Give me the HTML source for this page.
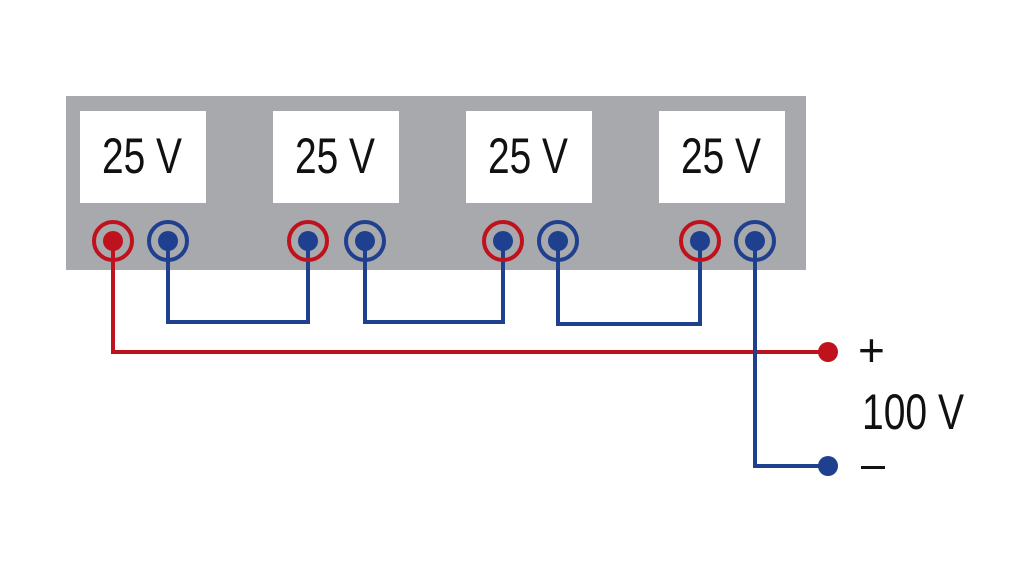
<!DOCTYPE html>
<html><head><style>
html,body{margin:0;padding:0;background:#fff;width:1024px;height:576px;overflow:hidden}
svg text{font-family:"Liberation Sans Narrow","Liberation Sans",sans-serif;fill:#111}
</style></head><body>
<svg width="1024" height="576" viewBox="0 0 1024 576" xmlns="http://www.w3.org/2000/svg">
<rect x="66" y="96" width="740" height="174" fill="#a7a9ad"/>
<g fill="#fff">
<rect x="80" y="111" width="126" height="92"/>
<rect x="273" y="111" width="126" height="92"/>
<rect x="466" y="111" width="126" height="92"/>
<rect x="659" y="111" width="126" height="92"/>
</g>
<g font-size="50" text-anchor="middle">
<text x="142" y="173" textLength="80" lengthAdjust="spacingAndGlyphs">25 V</text>
<text x="335" y="173" textLength="80" lengthAdjust="spacingAndGlyphs">25 V</text>
<text x="528" y="173" textLength="80" lengthAdjust="spacingAndGlyphs">25 V</text>
<text x="721" y="173" textLength="80" lengthAdjust="spacingAndGlyphs">25 V</text>
</g>
<g fill="none" stroke-width="4">
<polyline points="113,241 113,352 828,352" stroke="#c0121c"/>
<polyline points="168,241 168,322 308,322 308,241" stroke="#1f3f8f"/>
<polyline points="365,241 365,322 503,322 503,241" stroke="#1f3f8f"/>
<polyline points="558,241 558,324 700,324 700,241" stroke="#1f3f8f"/>
<polyline points="755,241 755,466 828,466" stroke="#1f3f8f"/>
</g>
<g stroke-width="4" fill="none">
<circle cx="113" cy="241" r="19" stroke="#c0121c"/>
<circle cx="168" cy="241" r="19" stroke="#1f3f8f"/>
<circle cx="308" cy="241" r="19" stroke="#c0121c"/>
<circle cx="365" cy="241" r="19" stroke="#1f3f8f"/>
<circle cx="503" cy="241" r="19" stroke="#c0121c"/>
<circle cx="558" cy="241" r="19" stroke="#1f3f8f"/>
<circle cx="700" cy="241" r="19" stroke="#c0121c"/>
<circle cx="755" cy="241" r="19" stroke="#1f3f8f"/>
</g>
<circle cx="113" cy="241" r="10" fill="#c0121c"/>
<g fill="#1f3f8f">
<circle cx="168" cy="241" r="10"/><circle cx="308" cy="241" r="10"/>
<circle cx="365" cy="241" r="10"/><circle cx="503" cy="241" r="10"/>
<circle cx="558" cy="241" r="10"/><circle cx="700" cy="241" r="10"/>
<circle cx="755" cy="241" r="10"/>
<circle cx="828" cy="466" r="10"/>
</g>
<circle cx="828" cy="352" r="10" fill="#c0121c"/>
<text x="858" y="366" font-size="46">+</text>
<text x="862" y="429" font-size="50" textLength="102" lengthAdjust="spacingAndGlyphs">100 V</text>
<rect x="861" y="466" width="24" height="3" fill="#111"/>
</svg>
</body></html>
